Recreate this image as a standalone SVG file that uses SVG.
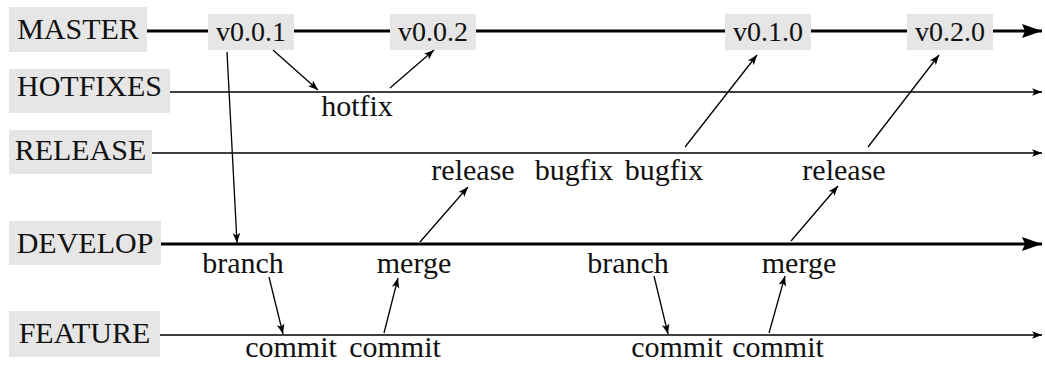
<svg xmlns="http://www.w3.org/2000/svg" width="1045" height="367" viewBox="0 0 1045 367">
  <style>
    text { font-family: "Liberation Serif", "DejaVu Serif", serif; font-size: 30px; fill: #111; }
    .lbl { text-anchor: middle; }
    .tag { font-size: 28px; }
    .box { fill: #e6e6e6; stroke: none; }
    .thick { stroke: #000; stroke-width: 2.8; fill: none; }
    .thin { stroke: #000; stroke-width: 1.3; fill: none; }
  </style>
  <defs>
    <marker id="big" markerUnits="userSpaceOnUse" markerWidth="24" markerHeight="18" refX="22" refY="9" orient="auto" overflow="visible">
      <path d="M22,9 L2,2 L5,9 L2,16 Z" fill="#000"/>
    </marker>
    <marker id="small" markerUnits="userSpaceOnUse" markerWidth="12" markerHeight="10" refX="11" refY="5" orient="auto" overflow="visible">
      <path d="M11,5 L1,1.2 L3.5,5 L1,8.8 Z" fill="#000"/>
    </marker>
  </defs>

  <!-- branch timelines -->
  <g id="timelines">
    <line class="thick" x1="147" y1="31" x2="1042" y2="31" marker-end="url(#big)"/>
    <line class="thin" x1="170" y1="92" x2="1042" y2="92" marker-end="url(#small)"/>
    <line class="thin" x1="152" y1="153" x2="1042" y2="153" marker-end="url(#small)"/>
    <line class="thick" x1="161" y1="244" x2="1042" y2="244" marker-end="url(#big)"/>
    <line class="thin" x1="160" y1="335" x2="1042" y2="335" marker-end="url(#small)"/>
  </g>

  <!-- branch names -->
  <g id="master"><rect class="box" x="9" y="7" width="138" height="45"/><text class="lbl" x="78" y="39">MASTER</text></g>
  <g id="hotfixes"><rect class="box" x="9" y="69" width="161" height="44"/><text class="lbl" x="89.5" y="96">HOTFIXES</text></g>
  <g id="release"><rect class="box" x="9" y="130" width="143" height="44"/><text class="lbl" x="80.5" y="160">RELEASE</text></g>
  <g id="develop"><rect class="box" x="9" y="221" width="152" height="44"/><text class="lbl" x="85" y="253">DEVELOP</text></g>
  <g id="feature"><rect class="box" x="9" y="311" width="151" height="46"/><text class="lbl" x="84.5" y="343">FEATURE</text></g>

  <!-- tagged versions on master -->
  <g id="v001"><rect class="box" x="208" y="14" width="86" height="36"/><text class="lbl tag" x="251" y="41">v0.0.1</text></g>
  <g id="v002"><rect class="box" x="390" y="14" width="86" height="36"/><text class="lbl tag" x="433" y="41">v0.0.2</text></g>
  <g id="v010"><rect class="box" x="725" y="14" width="86" height="36"/><text class="lbl tag" x="768" y="41">v0.1.0</text></g>
  <g id="v020"><rect class="box" x="907" y="14" width="86" height="36"/><text class="lbl tag" x="950" y="41">v0.2.0</text></g>

  <!-- event labels -->
  <g id="hotfix"><text class="lbl" x="357" y="116">hotfix</text></g>
  <g id="release1"><text class="lbl" x="473" y="180">release</text></g>
  <g id="bugfix1"><text class="lbl" x="574" y="180">bugfix</text></g>
  <g id="bugfix2"><text class="lbl" x="664" y="180">bugfix</text></g>
  <g id="release2"><text class="lbl" x="844" y="180">release</text></g>
  <g id="branch1"><text class="lbl" x="243" y="273">branch</text></g>
  <g id="merge1"><text class="lbl" x="414" y="273">merge</text></g>
  <g id="branch2"><text class="lbl" x="628" y="273">branch</text></g>
  <g id="merge2"><text class="lbl" x="799" y="273">merge</text></g>
  <g id="commit1"><text class="lbl" x="291" y="357">commit</text></g>
  <g id="commit2"><text class="lbl" x="395" y="357">commit</text></g>
  <g id="commit3"><text class="lbl" x="677" y="357">commit</text></g>
  <g id="commit4"><text class="lbl" x="778" y="357">commit</text></g>

  <!-- flow arrows between branches -->
  <g id="connectors">
    <line class="thin" x1="227" y1="52" x2="237" y2="243" marker-end="url(#small)"/>
    <line class="thin" x1="273" y1="50" x2="318" y2="90" marker-end="url(#small)"/>
    <line class="thin" x1="390" y1="88" x2="434" y2="50" marker-end="url(#small)"/>
    <line class="thin" x1="685" y1="147" x2="757" y2="55" marker-end="url(#small)"/>
    <line class="thin" x1="868" y1="147" x2="939" y2="55" marker-end="url(#small)"/>
    <line class="thin" x1="420" y1="242" x2="468" y2="187" marker-end="url(#small)"/>
    <line class="thin" x1="791" y1="241" x2="838" y2="186" marker-end="url(#small)"/>
    <line class="thin" x1="269" y1="277" x2="283" y2="334" marker-end="url(#small)"/>
    <line class="thin" x1="384" y1="333" x2="398" y2="278" marker-end="url(#small)"/>
    <line class="thin" x1="654" y1="276" x2="668" y2="334" marker-end="url(#small)"/>
    <line class="thin" x1="769" y1="333" x2="785" y2="276" marker-end="url(#small)"/>
  </g>
</svg>
